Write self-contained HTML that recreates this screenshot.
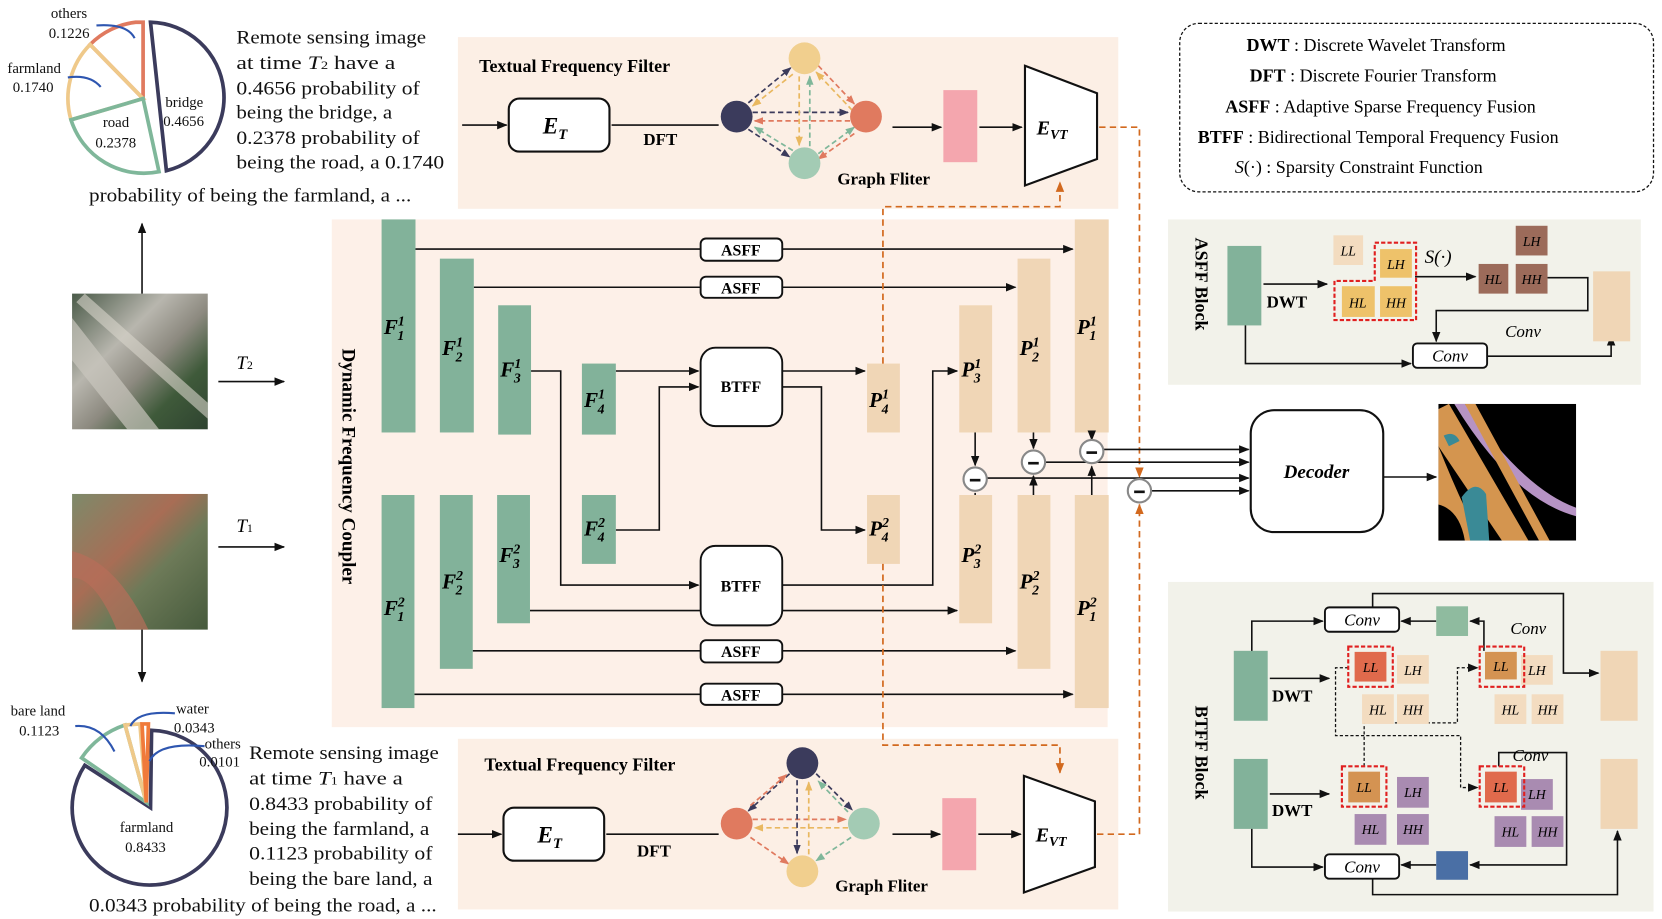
<!DOCTYPE html>
<html><head><meta charset="utf-8"><style>
html,body{margin:0;padding:0;background:#fff;}
svg{display:block;}
text{font-family:"Liberation Serif",serif;}
.b{font-weight:bold;}
.bi{font-weight:bold;font-style:italic;}
.i{font-style:italic;}
</style></head><body>
<svg width="1662" height="919" viewBox="0 0 1568 867" xmlns="http://www.w3.org/2000/svg">
<defs>
<marker id="a" markerWidth="10" markerHeight="10" refX="9" refY="5" orient="auto" markerUnits="userSpaceOnUse"><path d="M0,1 L10,5 L0,9 Z" fill="#111"/></marker>
<marker id="ao" markerWidth="10" markerHeight="10" refX="9" refY="5" orient="auto" markerUnits="userSpaceOnUse"><path d="M0,1 L10,5 L0,9 Z" fill="#d2691e"/></marker>
<marker id="an" markerWidth="9" markerHeight="9" refX="8" refY="4.5" orient="auto" markerUnits="userSpaceOnUse"><path d="M0,1 L9,4.5 L0,8 Z" fill="#3b3b5c"/></marker>
<marker id="ay" markerWidth="9" markerHeight="9" refX="8" refY="4.5" orient="auto" markerUnits="userSpaceOnUse"><path d="M0,1 L9,4.5 L0,8 Z" fill="#e9b860"/></marker>
<marker id="ar" markerWidth="9" markerHeight="9" refX="8" refY="4.5" orient="auto" markerUnits="userSpaceOnUse"><path d="M0,1 L9,4.5 L0,8 Z" fill="#e07a5f"/></marker>
<marker id="ag" markerWidth="9" markerHeight="9" refX="8" refY="4.5" orient="auto" markerUnits="userSpaceOnUse"><path d="M0,1 L9,4.5 L0,8 Z" fill="#7fb79a"/></marker>
<linearGradient id="ph1" x1="0" y1="0" x2="1" y2="1"><stop offset="0" stop-color="#4a5a48"/><stop offset="0.35" stop-color="#b8b6ae"/><stop offset="0.55" stop-color="#8d8a80"/><stop offset="0.75" stop-color="#3f5a3a"/><stop offset="1" stop-color="#2e4330"/></linearGradient>
<linearGradient id="ph2" x1="0" y1="0" x2="1" y2="1"><stop offset="0" stop-color="#7d8a6a"/><stop offset="0.4" stop-color="#a86d55"/><stop offset="0.6" stop-color="#6d7a58"/><stop offset="1" stop-color="#465a3c"/></linearGradient>
</defs>

<!-- top pie -->
<g fill="none" stroke-width="3.5" stroke-linejoin="miter">
<path d="M142,21 L157,161 A71,71 0 0 0 142,21 Z" stroke="#3b3b5c"/>
<path d="M135,93 L135,21 L128,21 A72,72 0 0 0 85,42 Z" stroke="#e07a5f"/>
<path d="M135,93 L85,42 A72,72 0 0 0 67,113 Z" stroke="#efc98a"/>
<path d="M135,93 L67,113 A72,72 0 0 0 150,162 Z" stroke="#7fb79a"/>
<path d="M91,24 Q120,22 127,36" stroke="#2e56b0" stroke-width="2"/>
<path d="M64,73 Q85,70 95,82" stroke="#2e56b0" stroke-width="2"/>
</g>
<g font-size="14" fill="#111">
<text x="48" y="17">others</text><text x="46" y="36">0.1226</text>
<text x="7" y="69">farmland</text><text x="12" y="87">0.1740</text>
<text x="97" y="120">road</text><text x="90" y="139">0.2378</text>
<text x="156" y="101">bridge</text><text x="154" y="119">0.4656</text>
</g>
<g font-size="18" fill="#111" lengthAdjust="spacingAndGlyphs">
<text x="223" y="41" textLength="179" lengthAdjust="spacingAndGlyphs">Remote sensing image</text>
<text x="223" y="65" textLength="150" lengthAdjust="spacingAndGlyphs">at  time  <tspan class="i">T</tspan><tspan font-size="11">2</tspan>  have a</text>
<text x="223" y="89" textLength="173" lengthAdjust="spacingAndGlyphs">0.4656  probability of</text>
<text x="223" y="112" textLength="147" lengthAdjust="spacingAndGlyphs">being the bridge, a</text>
<text x="223" y="136" textLength="173" lengthAdjust="spacingAndGlyphs">0.2378  probability of</text>
<text x="223" y="159" textLength="196" lengthAdjust="spacingAndGlyphs">being the road, a  0.1740</text>
<text x="84" y="190" textLength="304" lengthAdjust="spacingAndGlyphs">probability of being the farmland, a ...</text>
</g>

<!-- photos -->
<rect x="68" y="277" width="128" height="128" fill="url(#ph1)"/>
<path d="M68,300 L150,405 L120,405 L68,340 Z" fill="#c9c6bd" opacity="0.7"/>
<path d="M80,277 L196,380 L196,395 L72,285 Z" fill="#d8d5cc" opacity="0.6"/>
<rect x="68" y="466" width="128" height="128" fill="url(#ph2)"/>
<path d="M68,520 Q110,530 140,594 L110,594 Q90,545 68,545 Z" fill="#b86e5a" opacity="0.7"/>
<line x1="134" y1="277" x2="134" y2="211" stroke="#111" stroke-width="1.5" marker-end="url(#a)"/>
<line x1="134" y1="594" x2="134" y2="643" stroke="#111" stroke-width="1.5" marker-end="url(#a)"/>
<line x1="206" y1="360" x2="268" y2="360" stroke="#111" stroke-width="1.5" marker-end="url(#a)"/>
<line x1="206" y1="516" x2="268" y2="516" stroke="#111" stroke-width="1.5" marker-end="url(#a)"/>
<text x="223" y="348" font-size="18" class="i">T<tspan font-size="11" font-style="normal">2</tspan></text>
<text x="223" y="502" font-size="18" class="i">T<tspan font-size="11" font-style="normal">1</tspan></text>

<!-- bottom pie -->
<g fill="none" stroke-width="3.5">
<path d="M142,762 L143,689 A73,73 0 1 1 80,722 Z" stroke="#3b3b5c"/>
<path d="M138,757 L77,715 A80,80 0 0 1 118,684 Z" stroke="#7fb79a"/>
<path d="M138,757 L118,684 L132,683 Z" stroke="#efc98a"/>
<path d="M138,757 L134,683 L140,683 Z" stroke="#f07a3a"/>
<path d="M71,685 Q95,683 108,709" stroke="#2e56b0" stroke-width="2"/>
<path d="M165,673 Q130,670 123,685" stroke="#2e56b0" stroke-width="2"/>
<path d="M193,704 Q150,700 141,718" stroke="#2e56b0" stroke-width="2"/>
</g>
<g font-size="14" fill="#111">
<text x="10" y="675">bare land</text><text x="18" y="694">0.1123</text>
<text x="166" y="673">water</text><text x="164" y="691">0.0343</text>
<text x="193" y="706">others</text><text x="188" y="723">0.0101</text>
<text x="113" y="785">farmland</text><text x="118" y="804">0.8433</text>
</g>
<g font-size="18" fill="#111">
<text x="235" y="716" textLength="179" lengthAdjust="spacingAndGlyphs">Remote sensing image</text>
<text x="235" y="740" textLength="145" lengthAdjust="spacingAndGlyphs">at  time  <tspan class="i">T</tspan><tspan font-size="11">1</tspan>  have a</text>
<text x="235" y="764" textLength="173" lengthAdjust="spacingAndGlyphs">0.8433  probability of</text>
<text x="235" y="788" textLength="170" lengthAdjust="spacingAndGlyphs">being the farmland, a</text>
<text x="235" y="811" textLength="173" lengthAdjust="spacingAndGlyphs">0.1123  probability of</text>
<text x="235" y="835" textLength="173" lengthAdjust="spacingAndGlyphs">being the bare land, a</text>
<text x="84" y="860" textLength="328" lengthAdjust="spacingAndGlyphs">0.0343 probability of being the road, a ...</text>
</g>

<!-- top textual panel -->
<rect x="432" y="35" width="623" height="162" fill="#fcefe5"/>
<text x="452" y="68" font-size="17" class="b">Textual Frequency Filter</text>
<line x1="436" y1="118" x2="478" y2="118" stroke="#111" stroke-width="1.5" marker-end="url(#a)"/>
<rect x="480" y="93" width="95" height="50" rx="10" fill="#fff" stroke="#111" stroke-width="2"/>
<text x="512" y="126" font-size="22" class="bi">E<tspan font-size="14" dy="5">T</tspan></text>
<line x1="577" y1="118" x2="678" y2="118" stroke="#111" stroke-width="1.5"/>
<text x="607" y="137" font-size="16" class="b">DFT</text>
<g stroke-width="1.6" stroke-dasharray="5,3" fill="none">
<line x1="710" y1="106" x2="800" y2="106" stroke="#3b3b5c" marker-end="url(#an)"/>
<line x1="802" y1="114" x2="712" y2="114" stroke="#e07a5f" marker-end="url(#ar)"/>
<line x1="706" y1="97" x2="746" y2="64" stroke="#3b3b5c" marker-end="url(#an)"/>
<line x1="748" y1="70" x2="710" y2="100" stroke="#e9b860" marker-end="url(#ay)"/>
<line x1="706" y1="122" x2="745" y2="148" stroke="#3b3b5c" marker-end="url(#an)"/>
<line x1="748" y1="142" x2="712" y2="120" stroke="#7fb79a" marker-end="url(#ag)"/>
<line x1="772" y1="62" x2="806" y2="98" stroke="#e07a5f" marker-end="url(#ar)"/>
<line x1="804" y1="104" x2="770" y2="68" stroke="#e9b860" marker-end="url(#ay)"/>
<line x1="772" y1="145" x2="806" y2="120" stroke="#7fb79a" marker-end="url(#ag)"/>
<line x1="806" y1="126" x2="772" y2="150" stroke="#e07a5f" marker-end="url(#ar)"/>
<line x1="754" y1="72" x2="754" y2="137" stroke="#e9b860" marker-end="url(#ay)"/>
<line x1="764" y1="138" x2="764" y2="72" stroke="#7fb79a" marker-end="url(#ag)"/>
</g>
<circle cx="695" cy="110" r="15" fill="#3b3b5c"/>
<circle cx="759" cy="55" r="15" fill="#f1cf8e"/>
<circle cx="817" cy="110" r="15" fill="#e07a5f"/>
<circle cx="759" cy="154" r="15" fill="#a3cbb4"/>
<text x="790" y="174" font-size="16" class="b">Graph Fliter</text>
<line x1="842" y1="120" x2="888" y2="120" stroke="#111" stroke-width="1.5" marker-end="url(#a)"/>
<rect x="890" y="85" width="32" height="68" fill="#f4a6ae"/>
<line x1="924" y1="120" x2="964" y2="120" stroke="#111" stroke-width="1.5" marker-end="url(#a)"/>
<path d="M967,62 L1035,88 L1035,150 L967,175 Z" fill="#fff" stroke="#111" stroke-width="2"/>
<text x="978" y="127" font-size="19" class="bi">E<tspan font-size="13" dy="4">VT</tspan></text>

<!-- bottom textual panel -->
<rect x="432" y="697" width="623" height="161" fill="#fcefe5"/>
<text x="457" y="727" font-size="17" class="b">Textual Frequency Filter</text>
<line x1="432" y1="787" x2="473" y2="787" stroke="#111" stroke-width="1.5" marker-end="url(#a)"/>
<rect x="475" y="762" width="95" height="50" rx="10" fill="#fff" stroke="#111" stroke-width="2"/>
<text x="507" y="795" font-size="22" class="bi">E<tspan font-size="14" dy="5">T</tspan></text>
<line x1="572" y1="787" x2="678" y2="787" stroke="#111" stroke-width="1.5"/>
<text x="601" y="808" font-size="16" class="b">DFT</text>
<g stroke-width="1.6" stroke-dasharray="5,3" fill="none">
<line x1="710" y1="773" x2="798" y2="773" stroke="#e07a5f" marker-end="url(#ar)"/>
<line x1="800" y1="781" x2="712" y2="781" stroke="#e9b860" marker-end="url(#ay)"/>
<line x1="745" y1="730" x2="706" y2="765" stroke="#3b3b5c" marker-end="url(#an)"/>
<line x1="708" y1="760" x2="742" y2="731" stroke="#e07a5f" marker-end="url(#ar)"/>
<line x1="770" y1="730" x2="804" y2="764" stroke="#3b3b5c" marker-end="url(#an)"/>
<line x1="800" y1="766" x2="772" y2="737" stroke="#7fb79a" marker-end="url(#ag)"/>
<line x1="708" y1="790" x2="744" y2="815" stroke="#e07a5f" marker-end="url(#ar)"/>
<line x1="803" y1="790" x2="770" y2="812" stroke="#7fb79a" marker-end="url(#ag)"/>
<line x1="752" y1="736" x2="752" y2="805" stroke="#3b3b5c" marker-end="url(#an)"/>
<line x1="763" y1="806" x2="763" y2="738" stroke="#e9b860" marker-end="url(#ay)"/>
</g>
<circle cx="757" cy="720" r="15" fill="#3b3b5c"/>
<circle cx="695" cy="777" r="15" fill="#e07a5f"/>
<circle cx="815" cy="777" r="15" fill="#a3cbb4"/>
<circle cx="757" cy="822" r="15" fill="#f1cf8e"/>
<text x="788" y="841" font-size="16" class="b">Graph Fliter</text>
<line x1="842" y1="787" x2="887" y2="787" stroke="#111" stroke-width="1.5" marker-end="url(#a)"/>
<rect x="889" y="753" width="32" height="68" fill="#f4a6ae"/>
<line x1="923" y1="787" x2="963" y2="787" stroke="#111" stroke-width="1.5" marker-end="url(#a)"/>
<path d="M966,732 L1033,756 L1033,818 L966,842 Z" fill="#fff" stroke="#111" stroke-width="2"/>
<text x="977" y="794" font-size="19" class="bi">E<tspan font-size="13" dy="4">VT</tspan></text>

<!-- legend -->
<rect x="1113" y="22" width="447" height="159" rx="18" fill="#fff" stroke="#111" stroke-width="1.2" stroke-dasharray="3,2"/>
<g font-size="17">
<text x="1176" y="48"><tspan class="b">DWT</tspan> :  Discrete Wavelet Transform</text>
<text x="1179" y="77"><tspan class="b">DFT</tspan> :    Discrete Fourier Transform</text>
<text x="1156" y="106"><tspan class="b">ASFF</tspan> :   Adaptive Sparse Frequency Fusion</text>
<text x="1130" y="135"><tspan class="b">BTFF</tspan> :  Bidirectional Temporal Frequency Fusion</text>
<text x="1165" y="163"><tspan class="i">S</tspan>(·) :  Sparsity Constraint Function</text>
</g>

<!-- DFC panel -->
<rect x="313" y="207" width="732" height="479" fill="#fdf0e8"/>
<text transform="translate(323,440) rotate(90)" font-size="18" class="b" text-anchor="middle">Dynamic Frequency Coupler</text>

<g stroke="#111" stroke-width="1.5" fill="none">
<line x1="392" y1="235" x2="1012" y2="235" marker-end="url(#a)"/>
<line x1="447" y1="271" x2="958" y2="271" marker-end="url(#a)"/>
<polyline points="501,350 529,350 529,552 659,552" marker-end="url(#a)"/>
<line x1="581" y1="350" x2="659" y2="350" marker-end="url(#a)"/>
<polyline points="581,500 622,500 622,365 659,365" marker-end="url(#a)"/>
<line x1="500" y1="576" x2="903" y2="576" marker-end="url(#a)"/>
<line x1="446" y1="614" x2="958" y2="614" marker-end="url(#a)"/>
<line x1="391" y1="655" x2="1012" y2="655" marker-end="url(#a)"/>
<line x1="738" y1="350" x2="816" y2="350" marker-end="url(#a)"/>
<polyline points="738,365 775,365 775,500 816,500" marker-end="url(#a)"/>
<polyline points="738,552 880,552 880,350 903,350" marker-end="url(#a)"/>
</g>
<g fill="#82b29a">
<rect x="360" y="207" width="32" height="201"/><rect x="415" y="244" width="32" height="164"/>
<rect x="470" y="288" width="31" height="122"/><rect x="549" y="343" width="32" height="67"/>
<rect x="360" y="467" width="31" height="201"/><rect x="415" y="467" width="31" height="164"/>
<rect x="469" y="467" width="31" height="121"/><rect x="549" y="467" width="32" height="65"/>
</g>
<g fill="#f0d6b6">
<rect x="1014" y="207" width="32" height="201"/><rect x="960" y="244" width="31" height="164"/>
<rect x="905" y="288" width="31" height="120"/><rect x="818" y="343" width="31" height="65"/>
<rect x="1014" y="467" width="32" height="201"/><rect x="960" y="467" width="31" height="164"/>
<rect x="905" y="467" width="31" height="121"/><rect x="818" y="467" width="31" height="65"/>
</g>
<g font-size="20" class="bi">
<text x="362" y="315">F<tspan font-size="13" dy="-8">1</tspan><tspan font-size="13" dx="-7" dy="14">1</tspan></text>
<text x="417" y="335">F<tspan font-size="13" dy="-8">1</tspan><tspan font-size="13" dx="-7" dy="14">2</tspan></text>
<text x="472" y="355">F<tspan font-size="13" dy="-8">1</tspan><tspan font-size="13" dx="-7" dy="14">3</tspan></text>
<text x="551" y="384">F<tspan font-size="13" dy="-8">1</tspan><tspan font-size="13" dx="-7" dy="14">4</tspan></text>
<text x="362" y="580">F<tspan font-size="13" dy="-8">2</tspan><tspan font-size="13" dx="-7" dy="14">1</tspan></text>
<text x="417" y="555">F<tspan font-size="13" dy="-8">2</tspan><tspan font-size="13" dx="-7" dy="14">2</tspan></text>
<text x="471" y="530">F<tspan font-size="13" dy="-8">2</tspan><tspan font-size="13" dx="-7" dy="14">3</tspan></text>
<text x="551" y="505">F<tspan font-size="13" dy="-8">2</tspan><tspan font-size="13" dx="-7" dy="14">4</tspan></text>
<text x="1016" y="315">P<tspan font-size="13" dy="-8">1</tspan><tspan font-size="13" dx="-7" dy="14">1</tspan></text>
<text x="962" y="335">P<tspan font-size="13" dy="-8">1</tspan><tspan font-size="13" dx="-7" dy="14">2</tspan></text>
<text x="907" y="355">P<tspan font-size="13" dy="-8">1</tspan><tspan font-size="13" dx="-7" dy="14">3</tspan></text>
<text x="820" y="384">P<tspan font-size="13" dy="-8">1</tspan><tspan font-size="13" dx="-7" dy="14">4</tspan></text>
<text x="1016" y="580">P<tspan font-size="13" dy="-8">2</tspan><tspan font-size="13" dx="-7" dy="14">1</tspan></text>
<text x="962" y="555">P<tspan font-size="13" dy="-8">2</tspan><tspan font-size="13" dx="-7" dy="14">2</tspan></text>
<text x="907" y="530">P<tspan font-size="13" dy="-8">2</tspan><tspan font-size="13" dx="-7" dy="14">3</tspan></text>
<text x="820" y="505">P<tspan font-size="13" dy="-8">2</tspan><tspan font-size="13" dx="-7" dy="14">4</tspan></text>
</g>
<g fill="#fff" stroke="#111" stroke-width="1.8">
<rect x="661" y="225" width="77" height="21" rx="5"/><rect x="661" y="261" width="77" height="20" rx="5"/>
<rect x="661" y="604" width="77" height="21" rx="5"/><rect x="661" y="645" width="77" height="20" rx="5"/>
<rect x="661" y="328" width="77" height="74" rx="14"/><rect x="661" y="515" width="77" height="75" rx="14"/>
</g>
<g font-size="15" class="b" text-anchor="middle">
<text x="699" y="241">ASFF</text><text x="699" y="277">ASFF</text>
<text x="699" y="620">ASFF</text><text x="699" y="661">ASFF</text>
<text x="699" y="370">BTFF</text><text x="699" y="558">BTFF</text>
</g>

<!-- orange dashed -->
<g stroke="#d2691e" stroke-width="1.6" stroke-dasharray="6,4" fill="none">
<polyline points="833,343 833,195 1000,195 1000,172" marker-end="url(#ao)"/>
<polyline points="833,532 833,703 1000,703 1000,729" marker-end="url(#ao)"/>
<polyline points="1037,120 1075,120 1075,450" marker-end="url(#ao)"/>
<polyline points="1035,787 1075,787 1075,476" marker-end="url(#ao)"/>
</g>

<!-- minus & decoder lines -->
<g stroke="#111" stroke-width="1.5" fill="none">
<line x1="920" y1="408" x2="920" y2="439" marker-end="url(#a)"/>
<line x1="975" y1="408" x2="975" y2="423" marker-end="url(#a)"/>
<line x1="1030" y1="408" x2="1030" y2="415" marker-end="url(#a)"/>
<line x1="975" y1="467" x2="975" y2="449" marker-end="url(#a)"/>
<line x1="1030" y1="467" x2="1030" y2="440" marker-end="url(#a)"/>
<line x1="920" y1="467" x2="920" y2="465"/>
<line x1="1041" y1="424" x2="1178" y2="424" marker-end="url(#a)"/>
<line x1="986" y1="436" x2="1178" y2="436" marker-end="url(#a)"/>
<line x1="931" y1="451" x2="1178" y2="451" marker-end="url(#a)"/>
<line x1="1086" y1="463" x2="1178" y2="463" marker-end="url(#a)"/>
<line x1="1305" y1="450" x2="1355" y2="450" marker-end="url(#a)"/>
</g>
<g fill="#fff" stroke="#888" stroke-width="2">
<circle cx="920" cy="452" r="11"/><circle cx="975" cy="436" r="11"/><circle cx="1030" cy="426" r="11"/><circle cx="1075" cy="463" r="11"/>
</g>
<g stroke="#111" stroke-width="2.5">
<line x1="915" y1="453" x2="925" y2="453"/><line x1="970" y1="437" x2="980" y2="437"/><line x1="1025" y1="427" x2="1035" y2="427"/><line x1="1070" y1="464" x2="1080" y2="464"/>
</g>
<rect x="1180" y="387" width="125" height="115" rx="22" fill="#fff" stroke="#111" stroke-width="2"/>
<text x="1242" y="451" font-size="18" class="bi" text-anchor="middle">Decoder</text>
<svg x="1357" y="381" width="130" height="129" viewBox="0 0 130 129">
<rect width="130" height="129" fill="#000"/>
<path d="M0,5 L10,0 L85,129 L60,129 L0,40 Z" fill="#d4954f"/>
<path d="M0,40 L0,129 L40,129 Q20,90 0,40 Z" fill="#d4954f"/>
<path d="M15,0 L25,0 Q80,80 130,98 L130,106 Q70,90 15,0 Z" fill="#b693c4"/>
<path d="M25,0 L35,0 L105,129 L95,129 Z" fill="#d4954f"/>
<path d="M5,30 Q15,25 20,35 L10,40 Z" fill="#3a8a96"/>
<path d="M22,88 Q35,70 45,85 L48,129 L30,129 Z" fill="#3a8a96"/>
<path d="M0,95 Q20,100 25,129 L0,129 Z" fill="#000"/>
</svg>

<!-- ASFF block -->
<rect x="1102" y="207" width="446" height="156" fill="#f2f2ea"/>
<text transform="translate(1128,268) rotate(90)" font-size="17" class="b" text-anchor="middle">ASFF   Block</text>
<rect x="1158" y="232" width="32" height="75" fill="#82b29a"/>
<g stroke="#111" stroke-width="1.5" fill="none">
<line x1="1192" y1="268" x2="1252" y2="268" marker-end="url(#a)"/>
<line x1="1335" y1="261" x2="1392" y2="261" marker-end="url(#a)"/>
<polyline points="1460,262 1498,262 1498,293 1355,293 1355,322" marker-end="url(#a)"/>
<polyline points="1175,307 1175,343 1331,343" marker-end="url(#a)"/>
<polyline points="1403,336 1520,336 1520,317" marker-end="url(#a)"/>
</g>
<text x="1195" y="290" font-size="16" class="b">DWT</text>
<rect x="1258" y="222" width="28" height="28" fill="#f3dcc0"/>
<rect x="1302" y="235" width="30" height="27" fill="#eec26a"/>
<rect x="1266" y="270" width="31" height="29" fill="#eec26a"/>
<rect x="1302" y="270" width="30" height="29" fill="#eec26a"/>
<path d="M1297,229 L1336,229 L1336,302 L1259,302 L1259,265 L1297,265 Z" fill="none" stroke="#e02020" stroke-width="2" stroke-dasharray="4,2"/>
<rect x="1395" y="249" width="28" height="28" fill="#9c6b5a"/>
<rect x="1430" y="249" width="30" height="28" fill="#9c6b5a"/>
<rect x="1430" y="213" width="30" height="28" fill="#9c6b5a"/>
<g font-size="13" class="i" text-anchor="middle">
<text x="1272" y="241">LL</text><text x="1317" y="254">LH</text><text x="1281" y="290">HL</text><text x="1317" y="290">HH</text>
<text x="1409" y="268">HL</text><text x="1445" y="268">HH</text><text x="1445" y="232">LH</text>
</g>
<text x="1344" y="248" font-size="18" class="i">S(·)</text>
<text x="1420" y="318" font-size="16" class="i">Conv</text>
<rect x="1333" y="324" width="70" height="23" rx="4" fill="#fff" stroke="#111" stroke-width="1.8"/>
<text x="1368" y="341" font-size="16" class="i" text-anchor="middle">Conv</text>
<rect x="1503" y="256" width="35" height="66" fill="#f0d6b6"/>

<!-- BTFF block -->
<rect x="1102" y="549" width="458" height="311" fill="#f2f2ea"/>
<text transform="translate(1128,710) rotate(90)" font-size="17" class="b" text-anchor="middle">BTFF   Block</text>
<rect x="1164" y="614" width="32" height="66" fill="#82b29a"/>
<rect x="1164" y="716" width="32" height="66" fill="#82b29a"/>
<g stroke="#111" stroke-width="1.5" fill="none">
<line x1="1198" y1="640" x2="1254" y2="640" marker-end="url(#a)"/>
<line x1="1198" y1="749" x2="1254" y2="749" marker-end="url(#a)"/>
<polyline points="1181,614 1181,586 1248,586" marker-end="url(#a)"/>
<polyline points="1181,782 1181,818 1248,818" marker-end="url(#a)"/>
<polyline points="1400,614 1400,586 1387,586"  marker-end="url(#a)"/>
<line x1="1355" y1="586" x2="1322" y2="586" marker-end="url(#a)"/>
<polyline points="1295,573 1295,560 1475,560 1475,635 1508,635" marker-end="url(#a)"/>
<polyline points="1414,723 1414,710 1478,710 1478,816 1387,816" marker-end="url(#a)"/>
<line x1="1355" y1="816" x2="1322" y2="816" marker-end="url(#a)"/>
<polyline points="1295,829 1295,844 1526,844 1526,784" marker-end="url(#a)"/>
</g>
<g stroke="#111" stroke-width="1.2" stroke-dasharray="3,2" fill="none">
<polyline points="1272,630 1260,630 1260,694 1378,694 1378,743 1394,743" marker-end="url(#a)"/>
<polyline points="1287,723 1287,682 1375,682 1375,630 1394,630" marker-end="url(#a)"/>
</g>
<text x="1200" y="662" font-size="16" class="b">DWT</text>
<text x="1200" y="770" font-size="16" class="b">DWT</text>
<rect x="1250" y="573" width="70" height="23" rx="4" fill="#fff" stroke="#111" stroke-width="1.8"/>
<text x="1285" y="590" font-size="16" class="i" text-anchor="middle">Conv</text>
<rect x="1250" y="806" width="70" height="23" rx="4" fill="#fff" stroke="#111" stroke-width="1.8"/>
<text x="1285" y="823" font-size="16" class="i" text-anchor="middle">Conv</text>
<rect x="1355" y="572" width="30" height="28" fill="#8fbb9f"/>
<rect x="1355" y="803" width="30" height="27" fill="#4a6fa5"/>
<text x="1425" y="598" font-size="16" class="i">Conv</text>
<text x="1427" y="718" font-size="16" class="i">Conv</text>
<rect x="1278" y="615" width="30" height="28" fill="#e06a4c"/>
<rect x="1318" y="618" width="30" height="27" fill="#f3dcc0"/>
<rect x="1285" y="655" width="30" height="28" fill="#f3dcc0"/>
<rect x="1318" y="655" width="30" height="28" fill="#f3dcc0"/>
<rect x="1272" y="610" width="42" height="38" fill="none" stroke="#e02020" stroke-width="2" stroke-dasharray="4,2"/>
<rect x="1401" y="615" width="30" height="26" fill="#d49352"/>
<rect x="1435" y="618" width="30" height="28" fill="#f3dcc0"/>
<rect x="1410" y="655" width="30" height="28" fill="#f3dcc0"/>
<rect x="1445" y="655" width="30" height="28" fill="#f3dcc0"/>
<rect x="1396" y="610" width="42" height="38" fill="none" stroke="#e02020" stroke-width="2" stroke-dasharray="4,2"/>
<rect x="1272" y="728" width="30" height="29" fill="#d49352"/>
<rect x="1318" y="733" width="30" height="29" fill="#a98bb1"/>
<rect x="1278" y="768" width="30" height="29" fill="#a98bb1"/>
<rect x="1318" y="768" width="30" height="29" fill="#a98bb1"/>
<rect x="1266" y="723" width="42" height="38" fill="none" stroke="#e02020" stroke-width="2" stroke-dasharray="4,2"/>
<rect x="1401" y="728" width="30" height="29" fill="#e06a4c"/>
<rect x="1435" y="735" width="30" height="29" fill="#a98bb1"/>
<rect x="1410" y="770" width="30" height="29" fill="#a98bb1"/>
<rect x="1445" y="770" width="30" height="29" fill="#a98bb1"/>
<rect x="1396" y="723" width="42" height="38" fill="none" stroke="#e02020" stroke-width="2" stroke-dasharray="4,2"/>
<g font-size="13" class="i" text-anchor="middle">
<text x="1293" y="634">LL</text><text x="1333" y="637">LH</text><text x="1300" y="674">HL</text><text x="1333" y="674">HH</text>
<text x="1416" y="633">LL</text><text x="1450" y="637">LH</text><text x="1425" y="674">HL</text><text x="1460" y="674">HH</text>
<text x="1287" y="747">LL</text><text x="1333" y="752">LH</text><text x="1293" y="787">HL</text><text x="1333" y="787">HH</text>
<text x="1416" y="747">LL</text><text x="1450" y="754">LH</text><text x="1425" y="789">HL</text><text x="1460" y="789">HH</text>
</g>
<rect x="1510" y="614" width="35" height="66" fill="#f0d6b6"/>
<rect x="1510" y="716" width="35" height="66" fill="#f0d6b6"/>
</svg>
</body></html>
